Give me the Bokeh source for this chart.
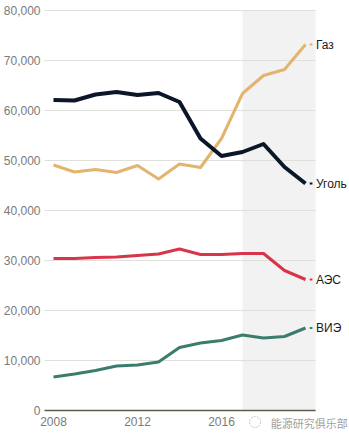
from bokeh.plotting import figure
from bokeh.models import Range1d
from bokeh.core.properties import value
from bokeh.embed import file_html
from bokeh.resources import INLINE

years = list(range(2008, 2021))
coal = [62100, 62000, 63200, 63700, 63100, 63500, 61700, 54400, 50900, 51700, 53300, 48700, 45400]
gas = [49100, 47700, 48200, 47600, 49000, 46300, 49300, 48600, 54400, 63400, 67000, 68200, 73200]
nuclear = [30400, 30400, 30600, 30700, 31000, 31300, 32300, 31200, 31200, 31400, 31400, 28000, 26200]
renew = [6700, 7300, 8000, 8900, 9100, 9700, 12600, 13500, 14000, 15100, 14500, 14800, 16500]
series_names = ["Газ", "Уголь", "АЭС", "ВИЭ"]
y_ticks = [0, 10000, 20000, 30000, 40000, 50000, 60000, 70000, 80000]
y_tick_labels = ["0", "10,000", "20,000", "30,000", "40,000", "50,000", "60,000", "70,000", "80,000"]
x_ticks = [2008, 2012, 2016]
x_tick_labels = ["2008", "2012", "2016"]
shade_start = 2017
watermark = "能源研究俱乐部"

FONT = "Liberation Sans"
x_lo, x_hi = 2005.476, 2022.095
grid_start = 2007.571
plot_end = 2020.48
y_lo, y_hi = -5000, 82000

p = figure(width=349, height=435, output_backend="svg", toolbar_location=None,
           x_range=Range1d(x_lo, x_hi), y_range=Range1d(y_lo, y_hi),
           x_axis_location=None, y_axis_location=None,
           min_border_left=0, min_border_right=0, min_border_top=0, min_border_bottom=0)
p.outline_line_color = None
p.background_fill_color = "white"
p.xgrid.visible = False
p.ygrid.visible = False

# shaded forecast region
p.quad(left=[shade_start], right=[plot_end], bottom=[0], top=[y_ticks[-1]],
       fill_color="#f2f2f2", line_color=None)

# gridlines
p.segment(x0=[grid_start] * (len(y_ticks) - 1), x1=[plot_end] * (len(y_ticks) - 1),
          y0=y_ticks[1:], y1=y_ticks[1:], line_color="#e0e0da", line_width=1)
# baseline
p.segment(x0=[grid_start], x1=[plot_end], y0=[0], y1=[0], line_color="#5c5c4c", line_width=1.5)

colors = {"Газ": "#e2b46e", "Уголь": "#0b1628", "АЭС": "#d8344a", "ВИЭ": "#3b7d6d"}
widths = {"Газ": 3, "Уголь": 4, "АЭС": 3, "ВИЭ": 3}
data = {"Газ": gas, "Уголь": coal, "АЭС": nuclear, "ВИЭ": renew}

for name in ["ВИЭ", "АЭС", "Газ", "Уголь"]:
    vals = data[name]
    p.line(years, vals, line_color=colors[name], line_width=widths[name], line_join="round")
    last = vals[-1]
    p.segment(x0=[years[-1] + 0.2], x1=[years[-1] + 0.33], y0=[last], y1=[last],
              line_color=colors[name], line_width=2)
    p.text(x=[years[-1] + 0.5], y=[last], text=[name], text_font=value(FONT),
           text_font_size="12px", text_color="#1a1a1a", text_baseline="middle", text_align="left")

# y tick labels
p.text(x=[2007.381] * len(y_ticks), y=y_ticks, text=y_tick_labels, text_font=value(FONT),
       text_font_size="12px", text_color="#7a7a7a", text_baseline="middle", text_align="right")

# x tick labels (below the baseline)
p.text(x=x_ticks, y=[-2200] * len(x_ticks), text=x_tick_labels, text_font=value(FONT),
       text_font_size="12px", text_color="#7a7a7a", text_baseline="middle", text_align="center")

# watermark
p.scatter(x=[2017.6], y=[-2300], marker="circle", size=11, fill_color=None,
          line_color="#c8c8c8", line_width=1, line_dash="2 1")
p.text(x=[2018.35], y=[-2400], text=[watermark], text_font=value("Noto Sans CJK SC"),
       text_font_size="11px", text_color="#a0a0a0", text_baseline="middle", text_align="left")

open("out.html", "w").write(file_html(p, INLINE))
